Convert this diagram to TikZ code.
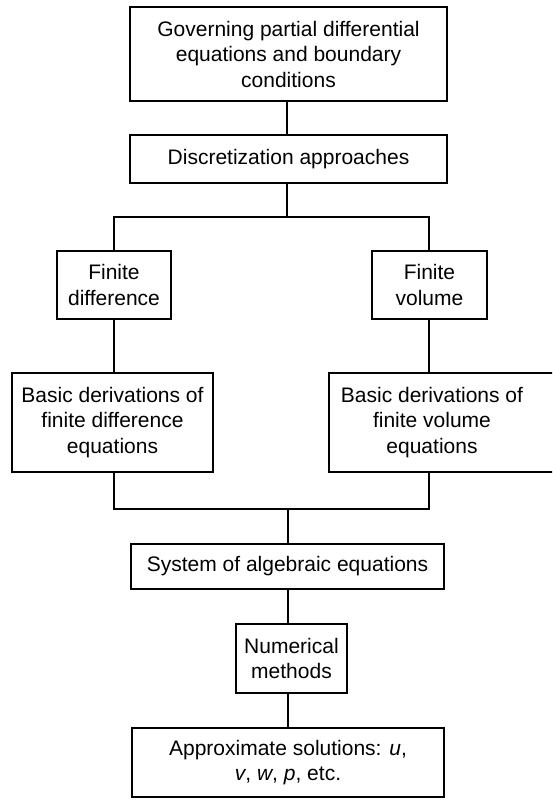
\documentclass[tikz,border=0pt]{standalone}
\usepackage{fontspec}
\setmainfont{Liberation Sans}
\begin{document}
\begin{tikzpicture}[x=1pt,y=-1pt,
  box/.style={draw, line width=1.5pt, inner sep=0pt, align=center,
    font=\fontsize{21}{25.5}\selectfont},
  txt/.style={inner sep=0pt, align=center, font=\fontsize{21}{25.5}\selectfont},
  wire/.style={line width=1.2pt}]
\useasboundingbox (0,0) rectangle (552,800);
\clip (0,0) rectangle (552,800);
\fill[white] (0,0) rectangle (552,800);

\node[box, minimum width=317pt, minimum height=94pt] (gov) at (288.5,54)
  {Governing partial differential\\equations and boundary\\conditions};
\node[box, minimum width=317pt, minimum height=48pt] (disc) at (288.5,159)
  {Discretization approaches};
\node[box, minimum width=114pt, minimum height=68pt] (fd) at (114,285)
  {Finite\\difference};
\node[box, minimum width=115pt, minimum height=68pt] (fv) at (429.5,285)
  {Finite\\volume};
\node[box, minimum width=201pt, minimum height=99pt] (bfd) at (112.5,422.5)
  {Basic derivations of\\finite difference\\equations};
\node[txt, minimum width=206pt, minimum height=99pt] (bfv) at (432,422.5)
  {Basic derivations of\\finite volume\\equations};
\draw[line width=1.5pt] ([xshift=260pt]bfv.north west) -- (bfv.north west)
  -- (bfv.south west) -- ++(260,0);
\node[box, minimum width=313pt, minimum height=45pt] (sys) at (287.5,566.5)
  {System of algebraic equations};
\node[box, minimum width=111pt, minimum height=69pt] (num) at (291.5,658.5)
  {Numerical\\methods};
\node[box, minimum width=312pt, minimum height=69pt] (app) at (288,762.5)
  {Approximate solutions: \textit{u},\\\textit{v}, \textit{w}, \textit{p}, etc.};

\coordinate (j1) at (287,217);
\coordinate (j2) at (288,509);
\coordinate (cl) at (114,0);
\coordinate (cr) at (429,0);

\draw[wire] (gov.south -| j1) -- (disc.north -| j1);
\draw[wire] (disc.south -| j1) -- (j1);
\draw[wire] (fd.north -| cl) |- (j1) -| (fv.north -| cr);
\draw[wire] (fd.south -| cl) -- (bfd.north -| cl);
\draw[wire] (fv.south -| cr) -- (bfv.north -| cr);
\draw[wire] (bfd.south -| cl) |- (j2) -| (bfv.south -| cr);
\draw[wire] (j2) -- (sys.north -| j2);
\draw[wire] (sys.south -| j2) -- (num.north -| j2);
\draw[wire] (num.south -| j2) -- (app.north -| j2);
\end{tikzpicture}
\end{document}
